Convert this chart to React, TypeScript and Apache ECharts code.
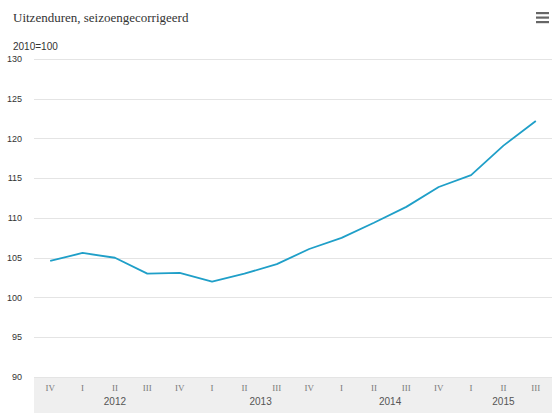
import React, { useEffect, useRef } from "react";
import * as echarts from "echarts";

const quarters = ["IV", "I", "II", "III", "IV", "I", "II", "III", "IV", "I", "II", "III", "IV", "I", "II", "III"];
const quarterYears = ["2012", "2012", "2012", "2012", "2012", "2013", "2013", "2013", "2013", "2014", "2014", "2014", "2014", "2015", "2015", "2015"];
const values = [104.6, 105.6, 105.0, 103.0, 103.1, 102.0, 103.0, 104.2, 106.1, 107.5, 109.4, 111.4, 113.9, 115.4, 119.1, 122.2];
const yMin = 90;
const yMax = 130;
const yStep = 5;
const title = "Uitzenduren, seizoengecorrigeerd";
const unitLabel = "2010=100";

function yearGroups() {
  const out: { year: string; center: number }[] = [];
  quarterYears.forEach((y, i) => {
    const last = out[out.length - 1] as any;
    if (last && last.year === y) {
      last.end = i;
      last.center = (last.start + i) / 2;
    } else {
      out.push({ year: y, center: i, start: i, end: i } as any);
    }
  });
  return out;
}

export default function App() {
  const ref = useRef<HTMLDivElement>(null);
  useEffect(() => {
    if (!ref.current) return;
    const chart = echarts.init(ref.current, null, { renderer: "svg" });
    const groups = yearGroups();
    const gridLeft = 34;
    const gridRight = 6;
    const gridTop = 59;
    const gridBottom = 42;
    chart.setOption({
      animation: false,
      backgroundColor: "#ffffff",
      title: [
        {
          text: title,
          left: 8,
          top: 6,
          textStyle: { fontFamily: "Liberation Serif", fontSize: 13, fontWeight: "normal", color: "#333" },
        },
        {
          text: unitLabel,
          left: 8,
          top: 36,
          textStyle: { fontFamily: "Liberation Sans", fontSize: 10, fontWeight: "normal", color: "#333" },
        },
      ],
      graphic: [
        {
          type: "rect",
          left: gridLeft,
          top: 377,
          shape: { width: 558 - gridLeft - gridRight, height: 36 },
          style: { fill: "#efefef" },
          z: -10,
        },
        { type: "rect", left: 536, top: 12, shape: { width: 13, height: 2.2 }, style: { fill: "#666" } },
        { type: "rect", left: 536, top: 16.5, shape: { width: 13, height: 2.2 }, style: { fill: "#666" } },
        { type: "rect", left: 536, top: 21, shape: { width: 13, height: 2.2 }, style: { fill: "#666" } },
      ],
      grid: { left: gridLeft, right: gridRight, top: gridTop, bottom: gridBottom, containLabel: false },
      xAxis: [
        {
          type: "category",
          data: quarters,
          boundaryGap: true,
          axisLine: { show: false },
          axisTick: { show: false },
          axisLabel: { margin: 6, fontFamily: "Liberation Serif", fontSize: 9, color: "#7a7a7a" },
        },
        {
          type: "value",
          position: "bottom",
          min: -0.5,
          max: quarters.length - 0.5,
          axisLine: { show: false },
          axisTick: { show: false },
          splitLine: { show: false },
          axisLabel: {
            margin: 19,
            customValues: groups.map((g) => g.center),
            formatter: (v: number) => {
              const g = groups.find((gg) => Math.abs(gg.center - v) < 1e-6);
              return g ? g.year : "";
            },
            fontFamily: "Liberation Sans",
            fontSize: 10,
            color: "#555",
          },
        },
      ],
      yAxis: {
        type: "value",
        min: yMin,
        max: yMax,
        interval: yStep,
        axisLine: { show: false },
        axisTick: { show: false },
        axisLabel: { margin: 12, fontFamily: "Liberation Sans", fontSize: 9, color: "#333" },
        splitLine: { lineStyle: { color: "#e4e4e4", width: 1 } },
      },
      series: [
        {
          type: "line",
          data: values,
          xAxisIndex: 0,
          symbol: "none",
          lineStyle: { color: "#1f9fc8", width: 1.8 },
        },
      ],
    });
    return () => chart.dispose();
  }, []);
  return <div ref={ref} style={{ width: 558, height: 419, position: "absolute", left: 0, top: 0 }} />;
}
